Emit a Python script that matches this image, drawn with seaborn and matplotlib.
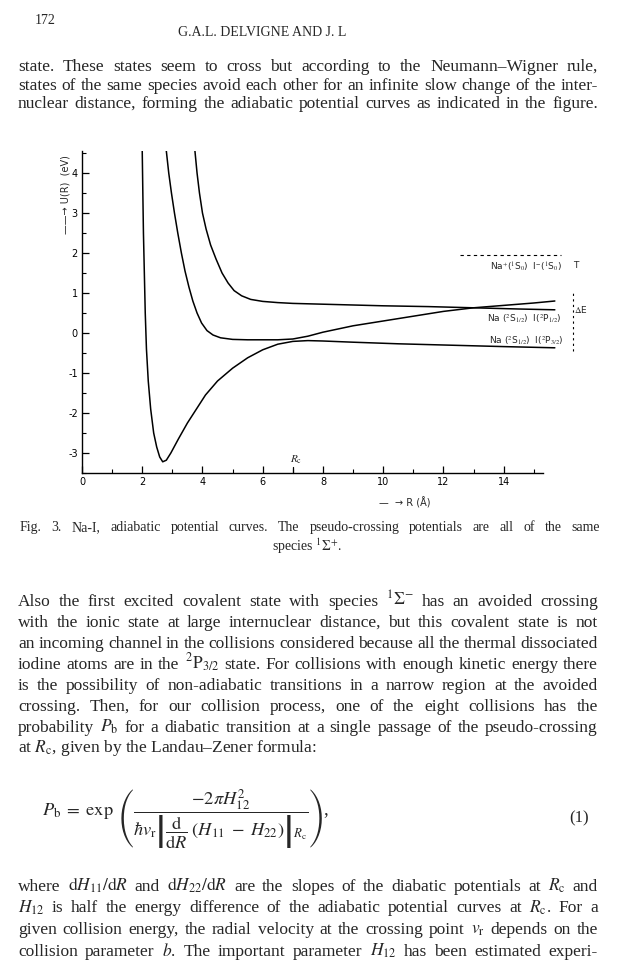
import numpy as np
import pandas as pd
import matplotlib
matplotlib.use('Agg')
import matplotlib.pyplot as plt
import seaborn as sns
from matplotlib.ticker import MultipleLocator, FixedLocator

# Curve readings, R in Angstrom, U in eV
r_ground = [2.0, 2.02, 2.04, 2.07, 2.1, 2.14, 2.2, 2.28, 2.38, 2.48, 2.58, 2.68,
            2.8, 2.95, 3.2, 3.5, 3.8, 4.1, 4.5, 5.0, 5.5, 6.0, 6.5, 7.0, 7.5,
            8.0, 9.0, 10.5, 12.0, 14.0, 15.7]
u_ground = [4.55, 3.5, 2.5, 1.5, 0.5, -0.4, -1.2, -1.9, -2.5, -2.85, -3.1, -3.22,
            -3.18, -3.0, -2.65, -2.25, -1.9, -1.55, -1.2, -0.88, -0.62, -0.42, -0.28,
            -0.21, -0.19, -0.2, -0.23, -0.27, -0.3, -0.34, -0.37]

r_middle = [2.8, 2.88, 2.97, 3.07, 3.18, 3.3, 3.42, 3.55, 3.68, 3.82, 3.97, 4.15,
            4.35, 4.6, 5.0, 5.5, 6.0, 6.5, 7.0, 7.5, 8.0, 8.5, 9.0, 10.0,
            11.0, 12.0, 13.0, 14.0, 15.0, 15.7]
u_middle = [4.55, 4.0, 3.5, 3.0, 2.5, 2.0, 1.55, 1.15, 0.8, 0.5, 0.25, 0.06,
            -0.05, -0.12, -0.16, -0.17, -0.17, -0.17, -0.15, -0.08, 0.02, 0.1,
            0.18, 0.3, 0.42, 0.54, 0.63, 0.69, 0.75, 0.8]

r_upper = [3.75, 3.82, 3.9, 4.0, 4.12, 4.27, 4.45, 4.65, 4.85, 5.05, 5.3, 5.6,
           6.0, 6.5, 7.0, 8.0, 9.0, 10.0, 11.5, 13.0, 14.5, 15.7]
u_upper = [4.55, 4.0, 3.5, 3.0, 2.6, 2.2, 1.85, 1.5, 1.25, 1.06, 0.93, 0.84,
           0.79, 0.76, 0.74, 0.72, 0.7, 0.68, 0.66, 0.63, 0.6, 0.58]

x_ticks = [0, 2, 4, 6, 8, 10, 12, 14]
x_minor = [1, 3, 5, 7, 9, 11, 13, 15]
y_ticks = [-3, -2, -1, 0, 1, 2, 3, 4]
r_cross = 7.0
ionic_level = 1.95

para1 = [
    "state. These states seem to cross but according to the Neumann\u2013Wigner rule,",
    "states of the same species avoid each other for an infinite slow change of the inter-",
    "nuclear distance, forming the adiabatic potential curves as indicated in the figure.",
]
caption = "Fig. 3. Na-I, adiabatic potential curves. The pseudo-crossing potentials are all of the same"
para2 = [
    r"Also the first excited covalent state with species $^{1}\Sigma^{-}$ has an avoided crossing",
    "with the ionic state at large internuclear distance, but this covalent state is not",
    "an incoming channel in the collisions considered because all the thermal dissociated",
    r"iodine atoms are in the $^{2}\mathrm{P}_{3/2}$ state. For collisions with enough kinetic energy there",
    "is the possibility of non-adiabatic transitions in a narrow region at the avoided",
    "crossing. Then, for our collision process, one of the eight collisions has the",
    r"probability $P_{\mathrm{b}}$ for a diabatic transition at a single passage of the pseudo-crossing",
]
para2_last = "at $R_{\\mathrm{c}}$, given by the Landau\u2013Zener formula:"
para3 = [
    r"where $\mathrm{d}H_{11}/\mathrm{d}R$ and $\mathrm{d}H_{22}/\mathrm{d}R$ are the slopes of the diabatic potentials at $R_{\mathrm{c}}$ and",
    r"$H_{12}$ is half the energy difference of the adiabatic potential curves at $R_{\mathrm{c}}$. For a",
    r"given collision energy, the radial velocity at the crossing point $v_{\mathrm{r}}$ depends on the",
    r"collision parameter $b$. The important parameter $H_{12}$ has been estimated experi-",
]

sns.set_theme(style='ticks')
plt.rcParams['font.family'] = ['DejaVu Sans']
plt.rcParams['mathtext.fontset'] = 'stix'

W, H = 625, 976
fig = plt.figure(figsize=(W / 100, H / 100), dpi=100)
fig.patch.set_facecolor('white')
renderer = fig.canvas.get_renderer()
serif = ['Liberation Serif', 'DejaVu Serif']


def pos(x, y):
    return x / W, 1 - y / H


def justify(line, y, size, x0=18, x1=598):
    # spread the words of one line between the margins
    words = line.split(' ')
    texts = [fig.text(0, 0, w, fontsize=size, family=serif, va='baseline') for w in words]
    widths = [t.get_window_extent(renderer).width for t in texts]
    gap = max((x1 - x0 - sum(widths)) / max(len(words) - 1, 1), 2.5)
    x = x0
    for t, w in zip(texts, widths):
        t.set_position(pos(x, y))
        x += w + gap


# header
fig.text(*pos(35, 24), '172', fontsize=10, family=serif)
fig.text(*pos(262, 36), 'G.A.L. DELVIGNE AND J. L', fontsize=10, family=serif, ha='center')

for i, line in enumerate(para1):
    justify(line, 71 + i * 18.5, 12.5)

# chart
ax = fig.add_axes([82 / W, 1 - 473 / H, 512 / W, 322 / H])
curves = pd.concat([
    pd.DataFrame({'R': r_ground, 'U': u_ground, 'curve': 'ground'}),
    pd.DataFrame({'R': r_middle, 'U': u_middle, 'curve': 'middle'}),
    pd.DataFrame({'R': r_upper, 'U': u_upper, 'curve': 'upper'}),
])
sns.lineplot(data=curves, x='R', y='U', units='curve', estimator=None, sort=False,
             color='black', linewidth=1.1, ax=ax)
ax.set_xlim(0, 17.0)
ax.set_ylim(-3.5, 4.55)
ax.set_facecolor('white')
for side in ['top', 'right']:
    ax.spines[side].set_visible(False)
ax.spines['bottom'].set_bounds(0, 15.3)
for side in ['left', 'bottom']:
    ax.spines[side].set_linewidth(1.0)
    ax.spines[side].set_color('black')
ax.set_xticks(x_ticks)
ax.set_yticks(y_ticks)
ax.set_xticklabels([str(v) for v in x_ticks])
ax.set_yticklabels([str(v) for v in y_ticks])
ax.xaxis.set_minor_locator(FixedLocator(x_minor))
ax.yaxis.set_minor_locator(MultipleLocator(0.5))
ax.tick_params(which='major', direction='in', length=5, width=0.9, labelsize=7,
               colors='black', pad=3)
ax.tick_params(which='minor', direction='in', length=3, width=0.8, colors='black')
ax.set_xlabel('')
ax.set_ylabel('')
ax.plot([r_cross, r_cross], [-3.5, -3.36], color='black', lw=0.9, clip_on=False)
ax.text(r_cross + 0.1, -3.25, '$R_{\\mathrm{c}}$', fontsize=8, ha='center')

# asymptote labels
ax.plot([12.55, 15.9], [ionic_level, ionic_level], color='black', lw=0.8,
        ls=(0, (3, 3)), clip_on=False)
ax.text(13.55, 1.65, r'Na$^{+}$($^{1}$S$_{0}$)  I$^{-}$($^{1}$S$_{0}$)', fontsize=6.5,
        va='center', clip_on=False)
ax.text(16.3, 1.7, 'T', fontsize=6.5, va='center', clip_on=False)
ax.text(13.45, 0.36, r'Na ($^{2}$S$_{1/2}$)  I($^{2}$P$_{1/2}$)', fontsize=6.5,
        va='center', clip_on=False)
ax.text(13.5, -0.2, r'Na ($^{2}$S$_{1/2}$)  I($^{2}$P$_{3/2}$)', fontsize=6.5,
        va='center', clip_on=False)
ax.plot([16.3, 16.3], [-0.45, 1.0], color='black', lw=0.8, ls=(0, (2, 3)), clip_on=False)
ax.text(16.35, 0.6, r'$\Delta$E', fontsize=6.5, va='center', clip_on=False)

fig.text(*pos(65, 195), '\u2014\u2014\u2192 U(R)  (eV)', rotation=90, fontsize=7,
         ha='center', va='center')
fig.text(*pos(405, 503), '\u2014  \u2192 R (\u00c5)', fontsize=7, ha='center', va='center')

# caption
justify(caption, 531, 10, x0=20, x1=600)
fig.text(*pos(307, 551), r'species $^{1}\Sigma^{+}$.', fontsize=10, family=serif, ha='center')

for i, line in enumerate(para2):
    justify(line, 606 + i * 21, 12.5)
fig.text(*pos(18, 752), para2_last, fontsize=12.5, family=serif, va='baseline')

formula = (r'$P_{\mathrm{b}}\;=\;\exp\;\left(\dfrac{-2\pi H_{12}^{2}}'
           r'{\hbar v_{\mathrm{r}}\left|\dfrac{\mathrm{d}}{\mathrm{d}R}\;'
           r'(H_{11}\;-\;H_{22})\right|_{R_{\mathrm{c}}}}\right)$,')
fig.text(*pos(42, 818), formula, fontsize=13.2, family=serif, va='center')
fig.text(*pos(579, 818), '(1)', fontsize=12, family=serif, ha='center', va='center')

for i, line in enumerate(para3):
    justify(line, 891 + i * 21.5, 12.5)

fig.savefig('out.png', dpi=100, facecolor='white')
